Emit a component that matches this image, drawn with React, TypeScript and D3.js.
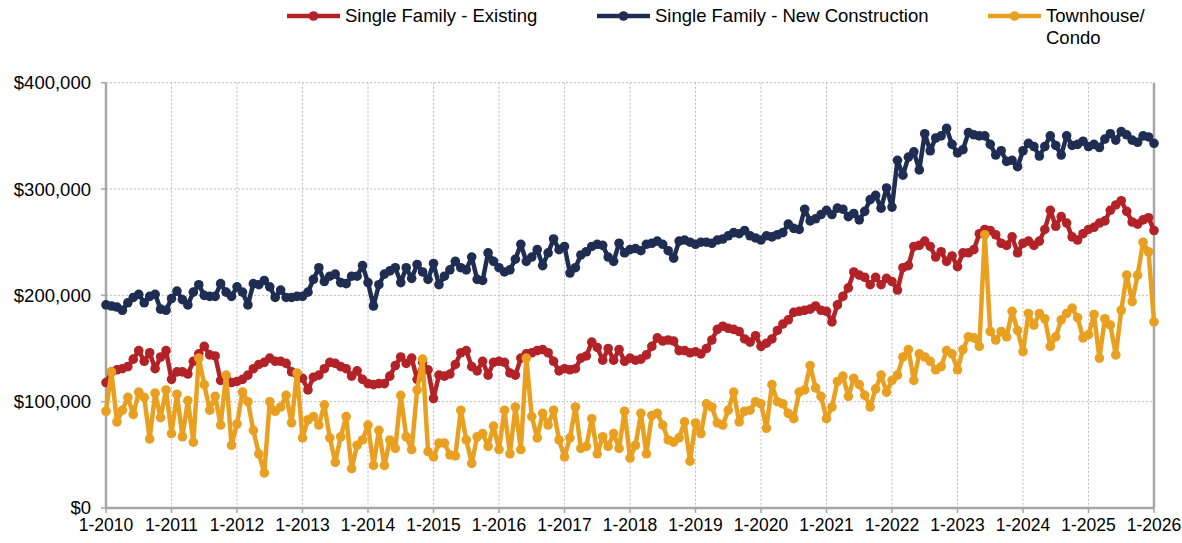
import * as d3 from "d3";

// monthly values, Jan 2010 .. Jan 2026, in thousands of dollars
const existing = [
  118,128,130,131,133,140,148,138,146,131,142,148,
  121,128,128,126,138,145,152,144,143,120,122,118,
  119,121,125,131,135,137,141,138,138,136,128,126,
  122,111,123,125,131,137,136,133,131,124,129,121,
  117,116,117,117,124,134,142,136,141,121,137,130,
  103,125,124,126,135,146,148,133,129,138,125,137,
  138,137,127,125,141,145,146,148,149,146,138,129,
  131,130,131,141,143,156,151,139,150,139,149,138,
  141,139,140,144,152,160,157,158,157,148,148,146,
  147,145,150,158,168,171,169,168,166,159,156,162,
  152,155,159,167,173,177,184,185,186,187,190,186,
  185,175,191,199,207,222,219,217,210,217,210,216,
  213,205,226,228,246,247,251,246,236,241,232,237,
  227,240,240,243,258,262,261,257,249,247,255,240,
  249,251,247,251,262,280,265,274,268,255,252,258,
  262,264,268,270,280,285,289,279,269,267,271,273,
  261,
];

const newConstruction = [
  191,190,189,186,193,198,201,193,199,201,187,186,
  197,204,196,191,203,210,200,199,199,211,203,199,
  208,203,191,211,210,214,208,198,205,198,198,199,
  199,203,215,226,213,218,220,212,211,218,218,228,
  212,190,210,220,223,226,212,226,216,229,222,215,
  230,210,218,224,232,226,224,236,215,214,240,232,
  226,222,224,234,248,232,236,243,228,240,253,243,
  246,221,226,238,241,246,248,247,236,232,249,240,
  243,244,242,248,249,251,248,242,235,251,252,250,
  248,250,250,249,252,253,256,259,258,261,256,254,
  252,256,255,257,259,267,263,262,281,270,272,276,
  280,276,282,281,274,277,271,279,290,294,282,301,
  283,327,313,330,335,318,352,336,348,350,357,342,
  334,337,353,351,350,350,342,332,336,326,327,321,
  336,343,340,331,340,350,341,332,350,341,342,345,
  340,342,339,347,352,346,354,351,346,344,350,349,
  343,
];

const townhouse = [
  91,128,81,92,104,88,109,104,65,108,85,111,
  70,107,67,101,62,141,116,92,105,78,125,59,
  79,109,100,73,51,33,100,91,95,106,80,127,
  66,83,86,78,97,66,43,67,86,37,59,64,
  78,40,73,40,64,56,106,67,55,111,140,53,
  48,61,61,50,49,92,64,42,67,70,58,77,
  55,92,51,95,55,141,86,66,89,78,92,64,
  48,66,95,56,58,84,51,67,58,70,56,91,
  47,59,89,51,87,89,78,64,62,66,81,44,
  80,70,98,95,80,78,92,109,81,91,92,100,
  98,75,116,100,98,89,84,109,111,134,113,105,
  84,95,119,124,105,122,116,106,95,112,125,109,
  120,125,142,149,120,145,142,138,130,133,148,145,
  130,149,161,160,152,257,166,158,166,161,185,167,
  147,183,172,183,178,152,161,177,183,188,179,160,
  163,182,141,178,172,144,186,219,194,219,250,241,
  175,
];

const yearLabels = [
  "1-2010","1-2011","1-2012","1-2013","1-2014","1-2015","1-2016","1-2017",
  "1-2018","1-2019","1-2020","1-2021","1-2022","1-2023","1-2024","1-2025","1-2026",
];
const yTicks = [0, 100, 200, 300, 400];

const series = [
  { name: "Single Family - New Construction", color: "#1f2d52", values: newConstruction },
  { name: "Single Family - Existing", color: "#b22226", values: existing },
  { name: "Townhouse/Condo", color: "#e9a021", values: townhouse },
];

const W = 1182, H = 543;
const left = 106, right = 1154, top = 82.7, bottom = 508;
const font = "'Liberation Sans', Arial, Helvetica, sans-serif";

export default function App() {
  const x = d3.scaleLinear().domain([0, existing.length - 1]).range([left, right]);
  const y = d3.scaleLinear().domain([0, 400]).range([bottom, top]);
  const line = d3.line<number>().x((_, i) => x(i)).y((d) => y(d));
  const fmt = (v: number) => "$" + d3.format(",")(v * 1000);

  const legend = [
    { s: series[1], x0: 287, lines: ["Single Family - Existing"] },
    { s: series[0], x0: 597, lines: ["Single Family - New Construction"] },
    { s: series[2], x0: 988, lines: ["Townhouse/", "Condo"] },
  ];

  return (
    <svg width={W} height={H} style={{ position: "absolute", left: 0, top: 0, background: "white" }}>
      {/* grid */}
      {yTicks.slice(1).map((t) => (
        <line key={"gy" + t} x1={left} x2={right} y1={y(t)} y2={y(t)}
          stroke="#bdbdbd" strokeWidth={1} strokeDasharray="2,2" />
      ))}
      {yearLabels.slice(1, -1).map((_, i) => (
        <line key={"gx" + i} x1={x((i + 1) * 12)} x2={x((i + 1) * 12)} y1={top} y2={bottom}
          stroke="#bdbdbd" strokeWidth={1} strokeDasharray="2,2" />
      ))}
      {/* axes */}
      <line x1={left} x2={left} y1={top} y2={bottom} stroke="#a6a6a6" strokeWidth={2.5} />
      <line x1={right} x2={right} y1={top} y2={bottom} stroke="#a6a6a6" strokeWidth={2.5} />
      <line x1={left} x2={right} y1={bottom} y2={bottom} stroke="#a6a6a6" strokeWidth={2.5} />
      {yTicks.map((t) => (
        <g key={"yt" + t}>
          <line x1={left - 5} x2={left} y1={y(t)} y2={y(t)} stroke="#a6a6a6" strokeWidth={1.5} />
          <text x={left - 15} y={y(t)} dy="0.35em" textAnchor="end" fontFamily={font} fontSize={18.5} fill="#000">
            {fmt(t)}
          </text>
        </g>
      ))}
      {yearLabels.map((lab, i) => (
        <g key={lab}>
          <line x1={x(i * 12)} x2={x(i * 12)} y1={bottom} y2={bottom + 5} stroke="#a6a6a6" strokeWidth={1.5} />
          <text x={x(i * 12)} y={bottom + 23} textAnchor="middle" fontFamily={font} fontSize={17.5} fill="#000">
            {lab}
          </text>
        </g>
      ))}
      {/* series */}
      {series.map((s) => (
        <g key={s.name}>
          <path d={line(s.values) || ""} fill="none" stroke={s.color} strokeWidth={4.5} strokeLinejoin="round" />
          {s.values.map((v, i) => (
            <circle key={i} cx={x(i)} cy={y(v)} r={4.8} fill={s.color} />
          ))}
        </g>
      ))}
      {/* legend */}
      {legend.map((l) => (
        <g key={l.s.name}>
          <line x1={l.x0} x2={l.x0 + 53} y1={16} y2={16} stroke={l.s.color} strokeWidth={4.5} />
          <circle cx={l.x0 + 26.5} cy={16} r={4.8} fill={l.s.color} />
          {l.lines.map((t, j) => (
            <text key={t} x={l.x0 + 58} y={16 + j * 22} dy="0.35em" fontFamily={font} fontSize={18.5} fill="#000">
              {t}
            </text>
          ))}
        </g>
      ))}
    </svg>
  );
}
